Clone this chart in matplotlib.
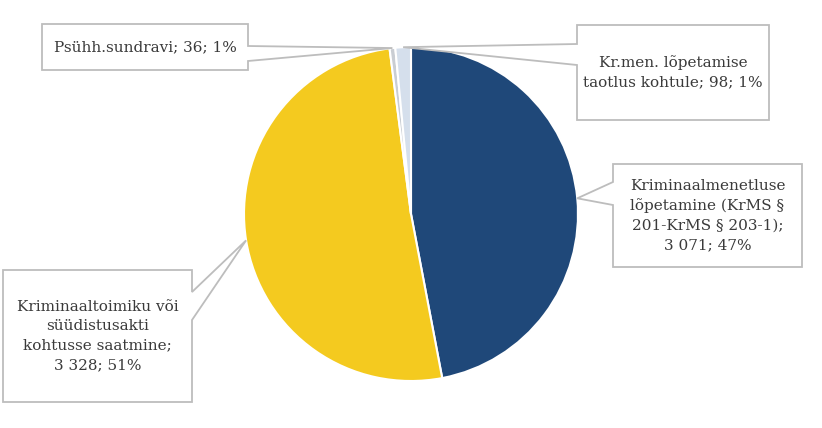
import numpy as np
import matplotlib.pyplot as plt
from matplotlib.patches import Polygon

# data
labels = ["Kriminaalmenetluse\nlõpetamine (KrMS §\n201-KrMS § 203-1);\n3 071; 47%",
          "Kriminaaltoimiku või\nsüüdistusakti\nkohtusse saatmine;\n3 328; 51%",
          "Psühh.sundravi; 36; 1%",
          "Kr.men. lõpetamise\ntaotlus kohtule; 98; 1%"]
values = [3071, 3328, 36, 98]
colors = ["#1F4879", "#F4CA1F", "#C9CDD3", "#D5DFEC"]

W, H = 822, 428
# callout boxes in pixels (x0, y0, x1, y1), side of the pointer and pointer base
boxes = [(613, 164, 802, 267), (3, 270, 192, 402), (42, 24, 248, 70), (577, 25, 769, 120)]
sides = ["left", "right", "right", "left"]
bases = [(182, 205), (292, 320), (46, 61), (44, 65)]

plt.rcParams['font.family'] = ['DejaVu Serif']
fig = plt.figure(figsize=(W / 100, H / 100), dpi=100)
ax = fig.add_axes([0, 0, 1, 1])

cx, cy, r = 411, H - 214, 167
wedges, _ = ax.pie(values, colors=colors, startangle=90, counterclock=False,
                   center=(cx, cy), radius=r, frame=True,
                   wedgeprops=dict(edgecolor="white", linewidth=1.5))
ax.set_xlim(0, W)
ax.set_ylim(0, H)
ax.set_aspect("equal")
ax.axis("off")


def fy(y):
    return H - y


for w, lab, (x0, y0, x1, y1), side, (ya, yb) in zip(wedges, labels, boxes, sides, bases):
    a = np.deg2rad((w.theta1 + w.theta2) / 2)
    tip = (cx + r * np.cos(a), cy + r * np.sin(a))
    if side == "right":
        pts = [(x0, fy(y0)), (x1, fy(y0)), (x1, fy(ya)), tip, (x1, fy(yb)),
               (x1, fy(y1)), (x0, fy(y1))]
    else:
        pts = [(x0, fy(y0)), (x1, fy(y0)), (x1, fy(y1)), (x0, fy(y1)),
               (x0, fy(yb)), tip, (x0, fy(ya))]
    ax.add_patch(Polygon(pts, closed=True, facecolor="white", edgecolor="#BDBDBD",
                         linewidth=1.3, zorder=3))
    ax.text((x0 + x1) / 2, fy((y0 + y1) / 2), lab, ha="center", va="center",
            fontsize=11, color="#3A3A3A", linespacing=1.5, zorder=4)

fig.savefig("out.png", dpi=100)
